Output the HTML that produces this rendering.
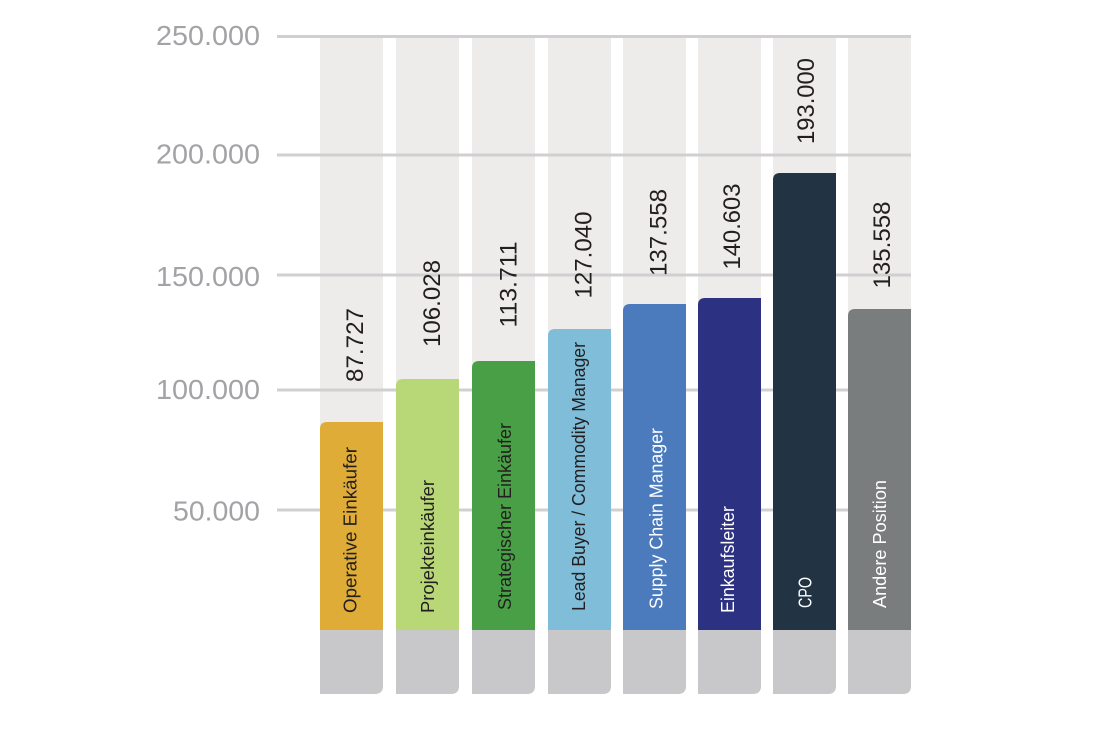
<!DOCTYPE html>
<html>
<head>
<meta charset="utf-8">
<style>
  html,body{margin:0;padding:0;background:#ffffff;}
  svg{display:block;}
  text{font-family:"Liberation Sans","DejaVu Sans",sans-serif;}
</style>
</head>
<body>
<svg width="1094" height="730" viewBox="0 0 1094 730" xmlns="http://www.w3.org/2000/svg">
  <rect x="0" y="0" width="1094" height="730" fill="#ffffff"/>

  <!-- light background columns -->
  <g fill="#edeceb">
    <rect x="320" y="38" width="63" height="592"/>
    <rect x="396" y="38" width="63" height="592"/>
    <rect x="472" y="38" width="63" height="592"/>
    <rect x="548" y="38" width="63" height="592"/>
    <rect x="623" y="38" width="63" height="592"/>
    <rect x="698" y="38" width="63" height="592"/>
    <rect x="773" y="38" width="63" height="592"/>
    <rect x="848" y="38" width="63" height="592"/>
  </g>

  <!-- gridlines -->
  <g stroke="#d0d0d2" stroke-width="3">
    <line x1="277" y1="36.5" x2="911" y2="36.5"/>
    <line x1="277" y1="155" x2="911" y2="155"/>
    <line x1="277" y1="275" x2="911" y2="275"/>
    <line x1="277" y1="390" x2="911" y2="390"/>
    <line x1="277" y1="510" x2="911" y2="510"/>
  </g>

  <!-- y axis labels -->
  <g fill="#a3a3a7" font-size="28" text-anchor="end">
    <text x="260" y="45" textLength="104" lengthAdjust="spacingAndGlyphs">250.000</text>
    <text x="260" y="163.5" textLength="104" lengthAdjust="spacingAndGlyphs">200.000</text>
    <text x="260" y="286" textLength="104" lengthAdjust="spacingAndGlyphs">150.000</text>
    <text x="260" y="399" textLength="104" lengthAdjust="spacingAndGlyphs">100.000</text>
    <text x="260" y="520.5" textLength="87" lengthAdjust="spacingAndGlyphs">50.000</text>
  </g>

  <!-- gray bases -->
  <g fill="#c8c8ca">
    <path d="M320,630 H383 V686 Q383,694 375,694 H320 Z"/>
    <path d="M396,630 H459 V686 Q459,694 451,694 H396 Z"/>
    <path d="M472,630 H535 V686 Q535,694 527,694 H472 Z"/>
    <path d="M548,630 H611 V686 Q611,694 603,694 H548 Z"/>
    <path d="M623,630 H686 V686 Q686,694 678,694 H623 Z"/>
    <path d="M698,630 H761 V686 Q761,694 753,694 H698 Z"/>
    <path d="M773,630 H836 V686 Q836,694 828,694 H773 Z"/>
    <path d="M848,630 H911 V686 Q911,694 903,694 H848 Z"/>
  </g>

  <!-- colored bars -->
  <path d="M320,630 V429 Q320,422 327,422 H383 V630 Z" fill="#dfad37"/>
  <path d="M396,630 V386 Q396,379 403,379 H459 V630 Z" fill="#b8d878"/>
  <path d="M472,630 V368 Q472,361 479,361 H535 V630 Z" fill="#489f45"/>
  <path d="M548,630 V336 Q548,329 555,329 H611 V630 Z" fill="#7fbdd8"/>
  <path d="M623,630 V311 Q623,304 630,304 H686 V630 Z" fill="#4b7bbd"/>
  <path d="M698,630 V305 Q698,298 705,298 H761 V630 Z" fill="#2d3182"/>
  <path d="M773,630 V180 Q773,173 780,173 H836 V630 Z" fill="#223444"/>
  <path d="M848,630 V316 Q848,309 855,309 H911 V630 Z" fill="#7a7d7d"/>

  <!-- value labels -->
  <g fill="#231f20" font-size="24">
    <text transform="translate(363,382) rotate(-90)" textLength="74" lengthAdjust="spacingAndGlyphs">87.727</text>
    <text transform="translate(440,347) rotate(-90)" textLength="87" lengthAdjust="spacingAndGlyphs">106.028</text>
    <text transform="translate(516.5,327.5) rotate(-90)" textLength="86" lengthAdjust="spacingAndGlyphs">113.711</text>
    <text transform="translate(591.5,298.5) rotate(-90)" textLength="87" lengthAdjust="spacingAndGlyphs">127.040</text>
    <text transform="translate(666.5,276) rotate(-90)" textLength="87" lengthAdjust="spacingAndGlyphs">137.558</text>
    <text transform="translate(740,269.5) rotate(-90)" textLength="86" lengthAdjust="spacingAndGlyphs">140.603</text>
    <text transform="translate(814,144) rotate(-90)" textLength="86" lengthAdjust="spacingAndGlyphs">193.000</text>
    <text transform="translate(890,288.5) rotate(-90)" textLength="87" lengthAdjust="spacingAndGlyphs">135.558</text>
  </g>

  <!-- category labels -->
  <g font-size="18">
    <text fill="#231f20" transform="translate(356.5,613) rotate(-90)" textLength="166" lengthAdjust="spacingAndGlyphs">Operative Einkäufer</text>
    <text fill="#231f20" transform="translate(434,613) rotate(-90)" textLength="133" lengthAdjust="spacingAndGlyphs">Projekteinkäufer</text>
    <text fill="#231f20" transform="translate(511,610) rotate(-90)" textLength="187" lengthAdjust="spacingAndGlyphs">Strategischer Einkäufer</text>
    <text fill="#231f20" transform="translate(585,611) rotate(-90)" textLength="269" lengthAdjust="spacingAndGlyphs">Lead Buyer / Commodity Manager</text>
    <text fill="#ffffff" transform="translate(662.5,609) rotate(-90)" textLength="181" lengthAdjust="spacingAndGlyphs">Supply Chain Manager</text>
    <text fill="#ffffff" transform="translate(734,613) rotate(-90)" textLength="107" lengthAdjust="spacingAndGlyphs">Einkaufsleiter</text>
    <text fill="#ffffff" transform="translate(811.5,608) rotate(-90)" textLength="31" lengthAdjust="spacingAndGlyphs">CPO</text>
    <text fill="#ffffff" transform="translate(886,608) rotate(-90)" textLength="128" lengthAdjust="spacingAndGlyphs">Andere Position</text>
  </g>
</svg>
</body>
</html>
